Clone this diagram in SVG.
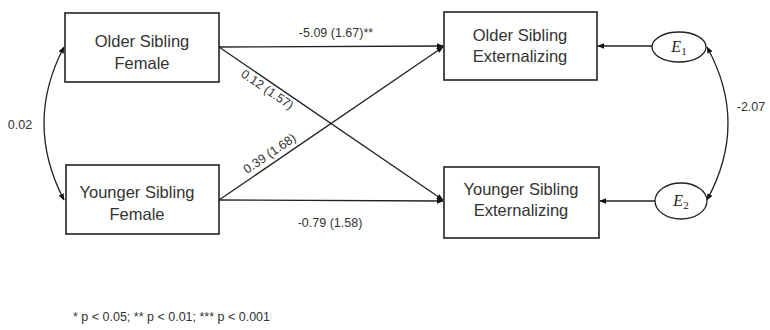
<svg xmlns="http://www.w3.org/2000/svg" width="770" height="330" viewBox="0 0 770 330">
<style>
.box{fill:#fff;stroke:#222;stroke-width:1.6}
.ell{fill:#fff;stroke:#222;stroke-width:1.3}
.t{font-family:"Liberation Sans",Arial,sans-serif;font-size:16.5px;fill:#333;text-anchor:middle}
.l{font-family:"Liberation Sans",Arial,sans-serif;font-size:12.5px;fill:#333;text-anchor:middle}
.e{font-family:"Liberation Serif","Times New Roman",serif;font-style:italic;font-size:16px;fill:#222;text-anchor:middle}
.c{fill:none;stroke:#222;stroke-width:1.3}
</style>
<defs>
<marker id="ah" viewBox="0 0 10 10" refX="9" refY="5" markerWidth="7" markerHeight="7" orient="auto-start-reverse" markerUnits="userSpaceOnUse">
<path d="M0,1 L10,5 L0,9 z" fill="#111"/>
</marker>
</defs>
<g id="connectors">
<line class="c" x1="219" y1="47" x2="443" y2="46" marker-end="url(#ah)"/>
<line class="c" x1="219" y1="200" x2="443" y2="201" marker-end="url(#ah)"/>
<line class="c" x1="219" y1="47" x2="443" y2="200" marker-end="url(#ah)"/>
<line class="c" x1="219" y1="200" x2="443" y2="47" marker-end="url(#ah)"/>
<line class="c" x1="652" y1="46" x2="598" y2="46" marker-end="url(#ah)"/>
<line class="c" x1="655" y1="201" x2="600" y2="201" marker-end="url(#ah)"/>
<path class="c" d="M64,47 Q24,123 64,200" marker-start="url(#ah)" marker-end="url(#ah)"/>
<path class="c" d="M707,47 Q749,123 707,200" marker-start="url(#ah)" marker-end="url(#ah)"/>
<text class="l" x="336" y="37">-5.09 (1.67)**</text>
<text class="l" x="330" y="227">-0.79 (1.58)</text>
<text class="l" transform="translate(265,93) rotate(34.4)">0.12 (1.57)</text>
<text class="l" transform="translate(272,157) rotate(-34.4)">0.39 (1.68)</text>
<text class="l" x="20" y="129">0.02</text>
<text class="l" x="751" y="111">-2.07</text>
</g>
<g id="osf">
<rect class="box" x="65" y="13" width="154" height="69"/>
<text class="t" x="142" y="47">Older Sibling</text>
<text class="t" x="142" y="69">Female</text>
</g>
<g id="ysf">
<rect class="box" x="66" y="165" width="153" height="69"/>
<text class="t" x="137" y="198">Younger Sibling</text>
<text class="t" x="137" y="220">Female</text>
</g>
<g id="ose">
<rect class="box" x="444" y="12" width="153" height="68"/>
<text class="t" x="520" y="41">Older Sibling</text>
<text class="t" x="520" y="62">Externalizing</text>
</g>
<g id="yse">
<rect class="box" x="444" y="167" width="155" height="71"/>
<text class="t" x="521" y="195">Younger Sibling</text>
<text class="t" x="521" y="216">Externalizing</text>
</g>
<g id="e1">
<ellipse class="ell" cx="679" cy="47" rx="27" ry="15"/>
<text class="e" x="679" y="52">E<tspan font-style="normal" font-size="11" dy="3">1</tspan></text>
</g>
<g id="e2">
<ellipse class="ell" cx="681" cy="201" rx="26" ry="18"/>
<text class="e" x="681" y="206">E<tspan font-style="normal" font-size="11" dy="3">2</tspan></text>
</g>
<text class="l" x="73" y="321" style="text-anchor:start">* p &lt; 0.05; ** p &lt; 0.01; *** p &lt; 0.001</text>
</svg>
